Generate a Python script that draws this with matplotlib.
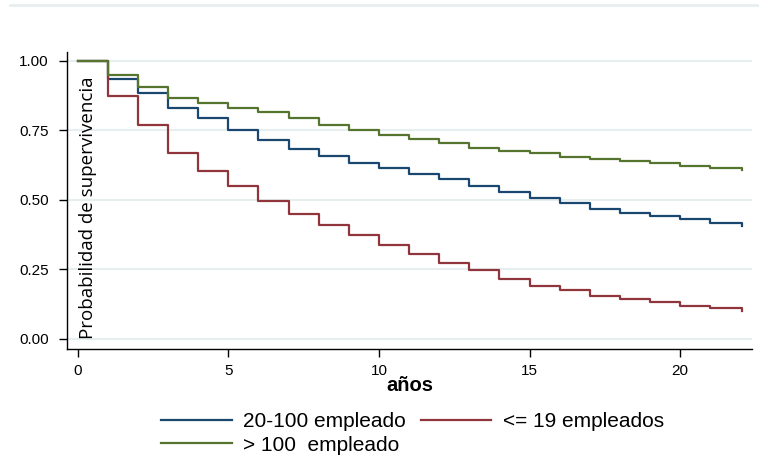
import numpy as np
import matplotlib.pyplot as plt
from matplotlib.lines import Line2D

# survival estimates (years 0..22 plus the end point)
years = list(range(23)) + [22.05]
surv_20_100 = [1.00, 0.935, 0.883, 0.831, 0.793, 0.751, 0.714, 0.682, 0.659, 0.634,
               0.614, 0.592, 0.574, 0.550, 0.529, 0.507, 0.487, 0.467, 0.454, 0.443,
               0.431, 0.418, 0.418, 0.406]
surv_le19 = [1.00, 0.873, 0.768, 0.669, 0.604, 0.549, 0.495, 0.450, 0.410, 0.373,
             0.338, 0.304, 0.274, 0.246, 0.216, 0.191, 0.174, 0.155, 0.143, 0.131,
             0.119, 0.111, 0.111, 0.101]
surv_gt100 = [1.00, 0.948, 0.908, 0.866, 0.849, 0.831, 0.818, 0.793, 0.770, 0.751,
              0.732, 0.718, 0.703, 0.688, 0.676, 0.667, 0.655, 0.646, 0.639, 0.631,
              0.621, 0.615, 0.615, 0.609]
labels = ['20-100 empleado', '<= 19 empleados', '> 100  empleado']
colors = ['#1a476f', '#90353b', '#55752f']
yticks = [0.0, 0.25, 0.5, 0.75, 1.0]
xticks = [0, 5, 10, 15, 20]

fig = plt.figure(figsize=(7.59, 4.74), dpi=100)
ax = fig.add_axes([0.088, 0.2637, 0.903, 0.627])

# faint frame line across the top
fig.add_artist(Line2D([0.013, 1.0], [0.989, 0.989], color='#e8eef0', lw=2.0))

for yt in yticks:
    ax.axhline(yt, color='#e6eef0', lw=1.5, zorder=0)

for y, c in zip([surv_20_100, surv_le19, surv_gt100], colors):
    ax.plot(years, y, drawstyle='steps-post', color=c, lw=1.6)

ax.set_xlim(-0.36, 22.39)
ax.set_ylim(-0.037, 1.033)
ax.set_xticks(xticks)
ax.set_yticks(yticks)
ax.set_yticklabels(['%.2f' % v for v in yticks])
for s in ['top', 'right']:
    ax.spines[s].set_visible(False)
ax.spines['left'].set_linewidth(1.0)
ax.spines['bottom'].set_linewidth(1.0)
ax.tick_params(length=6, width=1, labelsize=11)
ax.tick_params(axis='y', pad=7)
ax.tick_params(axis='x', pad=5)
for t in ax.get_xticklabels() + ax.get_yticklabels():
    t.set_family('Liberation Sans')

ax.text(0.03, 0.0, 'Probabilidad de supervivencia', rotation=90, family='Open Sans',
        fontsize=13.5, ha='left', va='bottom', transform=ax.transData)
ax.set_xlabel('años', family='Liberation Sans', fontweight='bold', fontsize=14.5, labelpad=-2)

handles = [Line2D([], [], color=c, lw=1.6) for c in colors]
fig.legend([handles[0], handles[2], handles[1]], [labels[0], labels[2], labels[1]],
           ncol=2, frameon=False, loc='upper left', bbox_to_anchor=(0.212, 0.13),
           prop={'family': 'Liberation Sans', 'size': 15}, handlelength=3.4,
           columnspacing=0.7, labelspacing=0.2, handletextpad=0.55, borderaxespad=0,
           borderpad=0)

fig.savefig('out.png', dpi=100)
